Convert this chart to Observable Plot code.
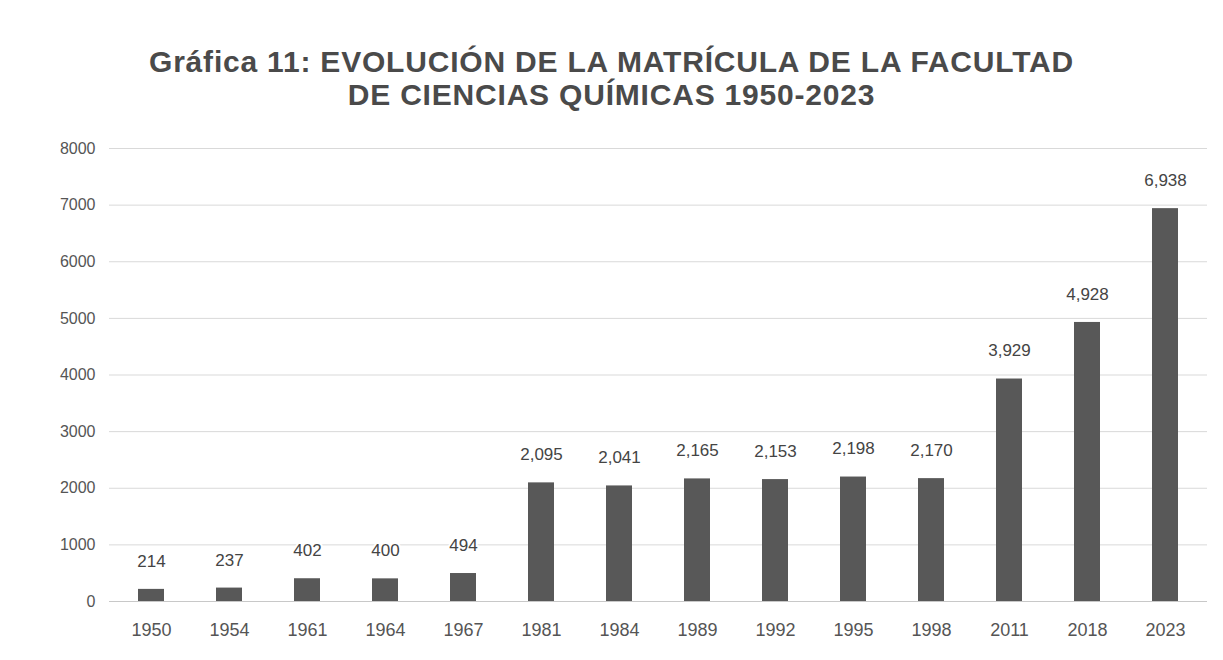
<!DOCTYPE html>
<html>
<head>
<meta charset="utf-8">
<script src="https://cdn.jsdelivr.net/npm/d3@7"></script>
<script src="https://cdn.jsdelivr.net/npm/@observablehq/plot@0.6"></script>
<style>
  html, body { margin: 0; padding: 0; background: #fff; }
  #title { width: 1223px; height: 120px; box-sizing: border-box; padding-top: 45px;
    text-align: center; font-family: "Liberation Sans", Arial, sans-serif; font-weight: bold;
    font-size: 30px; line-height: 33px; letter-spacing: 0.8px; color: #4a4a4a; }
</style>
</head>
<body>
<div id="title">Gráfica 11: EVOLUCIÓN DE LA MATRÍCULA DE LA FACULTAD<br>DE CIENCIAS QUÍMICAS 1950-2023</div>
<div id="chart"></div>
<script>
const years = ["1950","1954","1961","1964","1967","1981","1984","1989","1992","1995","1998","2011","2018","2023"];
const students = [214, 237, 402, 400, 494, 2095, 2041, 2165, 2153, 2198, 2170, 3929, 4928, 6938];
const yTicks = [0,1000,2000,3000,4000,5000,6000,7000,8000];

const data = years.map((y, i) => ({year: y, value: students[i]}));

const chart = Plot.plot({
  width: 1223,
  height: 540,
  marginLeft: 109,
  marginRight: 16,
  marginTop: 28,
  marginBottom: 59,
  style: {fontFamily: "'Liberation Sans', Arial, sans-serif", color: "#555", background: "#fff"},
  x: {domain: years, paddingInner: 0.67, paddingOuter: 0.332, label: null, tickSize: 0, tickPadding: 22},
  y: {domain: [0, 8000], ticks: yTicks, label: null, tickSize: 0, tickPadding: 14, tickFormat: d => String(d)},
  marks: [
    Plot.gridY(yTicks.filter(d => d > 0), {stroke: "#d9d9d9", strokeOpacity: 1}),
    Plot.ruleY([0], {stroke: "#c8c8c8"}),
    Plot.barY(data, {x: "year", y: "value", fill: "#585858"}),
    Plot.text(data, {x: "year", y: "value", text: d => d3.format(",")(d.value), dy: -28,
      fontSize: 17, fill: "#444", stroke: "#fff", strokeWidth: 4})
  ]
});
chart.querySelectorAll("g[aria-label='x-axis tick label']").forEach(g => g.setAttribute("font-size", "18"));
chart.querySelectorAll("g[aria-label='y-axis tick label']").forEach(g => g.setAttribute("font-size", "16"));
document.getElementById("chart").appendChild(chart);
</script>
</body>
</html>
